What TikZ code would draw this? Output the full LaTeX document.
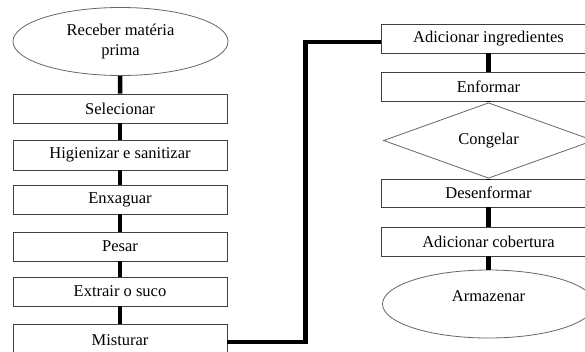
\documentclass[tikz,border=0pt]{standalone}
\usepackage{fontspec}
\setmainfont{Liberation Serif}
\usetikzlibrary{shapes.geometric}
\begin{document}
\begin{tikzpicture}[x=1pt,y=-1pt,
  every node/.style={font=\fontsize{16.5}{19.5}\selectfont, inner sep=0pt, align=center},
  box/.style={rectangle, draw=black!75, line width=0.9pt, fill=white, minimum width=214pt, minimum height=29pt},
  oval/.style={ellipse, draw=black!60, line width=0.8pt, fill=white},
  dia/.style={diamond, draw=black!60, line width=0.8pt, fill=white, minimum width=210pt, minimum height=55pt},
  conn/.style={line width=4.5pt, black, line join=miter}]
\useasboundingbox (0,0) rectangle (585,351);
\clip (0,0) rectangle (585,351);
% left column
\node[oval, minimum width=215pt, minimum height=68pt] (r1) at (120.5,41.5) {Receber matéria\\prima};
\node[box] (sel) at (120,108.5) {Selecionar};
\node[box, minimum height=30pt] (hig) at (120,155) {Higienizar e sanitizar};
\node[box] (enx) at (120,199.5) {Enxaguar};
\node[box] (pes) at (120,246.5) {Pesar};
\node[box] (ext) at (120,291.5) {Extrair o suco};
\node[box, minimum height=32pt] (mis) at (120,340) {Misturar};
% right column
\node[box] (add) at (488.5,38.5) {Adicionar ingredientes};
\node[box] (enf) at (488.5,86.5) {Enformar};
\node[dia] (con) at (488.5,140.5) {Congelar};
\node[box, minimum height=28pt] (des) at (488.5,193) {Desenformar};
\node[box] (cob) at (488.5,241.5) {Adicionar cobertura};
\node[oval, minimum width=212pt, minimum height=68pt, text height=9pt, text depth=14pt] (arm) at (488.5,304) {Armazenar};
% connectors
\draw[conn] (r1) -- (sel);
\draw[conn] (sel) -- (hig);
\draw[conn] (hig) -- (enx);
\draw[conn] (enx) -- (pes);
\draw[conn] (pes) -- (ext);
\draw[conn] (ext) -- (mis);
\coordinate (k) at (305.5,42);
\draw[conn] ([yshift=-2pt]mis.east) -| (k) -- (add.west |- k);
\draw[conn] (add) -- (enf);
\draw[conn] (enf) -- (con);
\draw[conn] (con) -- (des);
\draw[conn] (des) -- (cob);
\draw[conn] (cob) -- (arm);
\end{tikzpicture}
\end{document}
